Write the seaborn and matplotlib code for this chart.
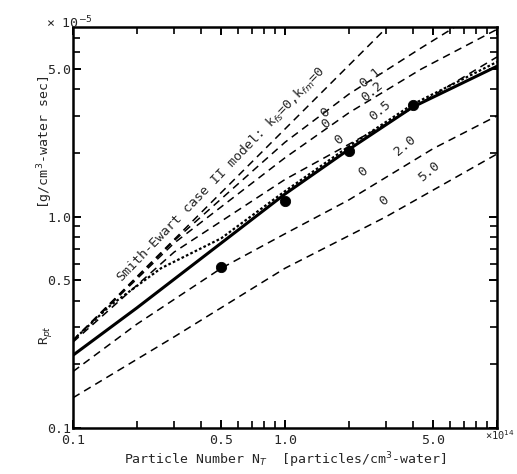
import numpy as np
import pandas as pd
import matplotlib
matplotlib.use("Agg")
import matplotlib.pyplot as plt
from matplotlib.ticker import FixedLocator, NullFormatter, FixedFormatter
import seaborn as sns

# ---- data: x in 1e14 particles/cm3-water, y in 1e-5 g/cm3-water sec ----
x_se = [0.1, 1.0, 10.0]
y_se = [0.26, 2.6, 26.0]                      # Smith-Ewart case II, k_fs=0, k_fm=0

x_k01 = [0.1, 0.3, 1.0, 2.0, 4.4, 10.0]
y_k01 = [0.26, 0.77, 2.25, 3.8, 6.3, 10.5]     # k_fm = 0.1

x_k02 = [0.1, 0.3, 1.0, 2.0, 4.4, 10.0]
y_k02 = [0.26, 0.75, 1.9, 3.1, 5.0, 7.7]       # k_fm = 0.2

x_k05 = [0.1, 0.3, 1.0, 2.0, 3.0, 10.0]
y_k05 = [0.255, 0.68, 1.5, 2.2, 2.75, 5.7]     # k_fm = 0.5

x_k20 = [0.1, 0.2, 0.5, 1.0, 2.0, 5.0, 10.0]
y_k20 = [0.185, 0.31, 0.57, 0.83, 1.2, 2.1, 3.0]   # k_fm = 2.0

x_k50 = [0.1, 0.3, 1.0, 3.0, 10.0]
y_k50 = [0.139, 0.27, 0.57, 1.0, 1.98]         # k_fm = 5.0

x_solid = [0.1, 0.2, 0.5, 1.0, 2.0, 4.0, 10.0]
y_solid = [0.221, 0.37, 0.75, 1.28, 2.08, 3.3, 5.15]

x_wavy = [0.1, 0.15, 0.26, 0.5, 1.0, 2.0, 4.0, 10.0]
y_wavy = [0.26, 0.38, 0.57, 0.79, 1.32, 2.15, 3.4, 5.4]

x_exp = [0.5, 1.0, 2.0, 4.0]
y_exp = [0.58, 1.19, 2.05, 3.37]

x_major = [0.1, 0.5, 1.0, 5.0, 10.0]
x_major_labels = ["0.1", "0.5", "1.0", "5.0", ""]
y_major = [0.1, 0.5, 1.0, 5.0]
y_major_labels = ["0.1", "0.5", "1.0", "5.0"]

sns.set_style("ticks")
plt.rcParams["font.family"] = ["DejaVu Sans Mono", "DejaVu Sans"]
plt.rcParams["mathtext.fontset"] = "dejavusans"

fig = plt.figure(figsize=(5.17, 4.74), dpi=100)
ax = fig.add_axes([73/517, 1 - 428/474, (497 - 73)/517, (428 - 27)/474])

dash = (0, (5, 3.5))
for xs, ys in [(x_se, y_se), (x_k01, y_k01), (x_k02, y_k02), (x_k05, y_k05),
               (x_k20, y_k20), (x_k50, y_k50)]:
    sns.lineplot(x=xs, y=ys, ax=ax, color="black", lw=1.1, linestyle=dash,
                 sort=False, estimator=None)

sns.lineplot(x=x_solid, y=y_solid, ax=ax, color="black", lw=2.2,
             sort=False, estimator=None)
sns.lineplot(x=x_wavy, y=y_wavy, ax=ax, color="black", lw=1.6,
             linestyle=(0, (1.2, 1.0)), sort=False, estimator=None)
sns.scatterplot(x=x_exp, y=y_exp, ax=ax, color="black", s=55, edgecolor="black",
                zorder=5)

ax.set_xscale("log")
ax.set_yscale("log")
ax.set_xlim(0.1, 10)
ax.set_ylim(0.1, 7.9)

minor_x = [v * d for d in (0.1, 1.0) for v in range(2, 10) if not (v == 5)]
minor_y = [v * d for d in (0.1, 1.0) for v in range(2, 10) if not (v == 5)]
ax.xaxis.set_major_locator(FixedLocator(x_major))
ax.xaxis.set_major_formatter(FixedFormatter(x_major_labels))
ax.xaxis.set_minor_locator(FixedLocator(minor_x))
ax.xaxis.set_minor_formatter(NullFormatter())
ax.yaxis.set_major_locator(FixedLocator(y_major))
ax.yaxis.set_major_formatter(FixedFormatter(y_major_labels))
ax.yaxis.set_minor_locator(FixedLocator(minor_y))
ax.yaxis.set_minor_formatter(NullFormatter())

ax.tick_params(which="both", direction="in", top=True, right=True,
               color="black", labelsize=9.5)
ax.tick_params(which="major", length=6, width=1.4)
ax.tick_params(which="minor", length=5, width=1.2)
ax.tick_params(axis="x", which="major", pad=4)
ax.tick_params(axis="y", which="major", pad=1.5)
for sp in ax.spines.values():
    sp.set_linewidth(1.8)
    sp.set_color("black")
    sp.set_visible(True)

# line annotations
fs = 9.5
ax.text(0.175, 0.47, "Smith-Ewart case II model: k$_{fs}$=0,k$_{fm}$=0",
        rotation=46, rotation_mode="anchor", ha="left", va="bottom", fontsize=9.5)
lab = [
    (1.61, 2.95, "0", 40), (1.63, 2.62, "0", 40),
    (2.65, 4.3, "0.1", 40), (2.68, 3.7, "0.2", 40),
    (1.89, 2.18, "0", 40), (2.95, 3.0, "0.5", 40),
    (2.45, 1.55, "0", 40), (3.85, 2.05, "2.0", 40),
    (3.05, 1.13, "0", 40), (5.0, 1.55, "5.0", 40),
]
for x, y, s, r in lab:
    ax.text(x, y, s, rotation=r, rotation_mode="anchor", ha="center",
            va="bottom", fontsize=fs)

ax.set_xlabel("Particle Number N$_T$  [particles/cm$^3$-water]", fontsize=9.5,
              labelpad=3)
ax.set_ylabel("")
fig.text(45/517, 1 - 335/474, "R$_{pt}$", rotation=90, ha="center", va="center",
         fontsize=9.5)
fig.text(45/517, 1 - 142/474, "[g/cm$^3$-water sec]", rotation=90, ha="center",
         va="center", fontsize=9.5)
fig.text(46/517, 1 - 28/474, "× 10$^{-5}$", ha="left", va="baseline", fontsize=9.5)
fig.text(515/517, 1 - 440/474, "×10$^{14}$", ha="right", va="baseline", fontsize=7.5)

fig.savefig("out.png", dpi=100)
